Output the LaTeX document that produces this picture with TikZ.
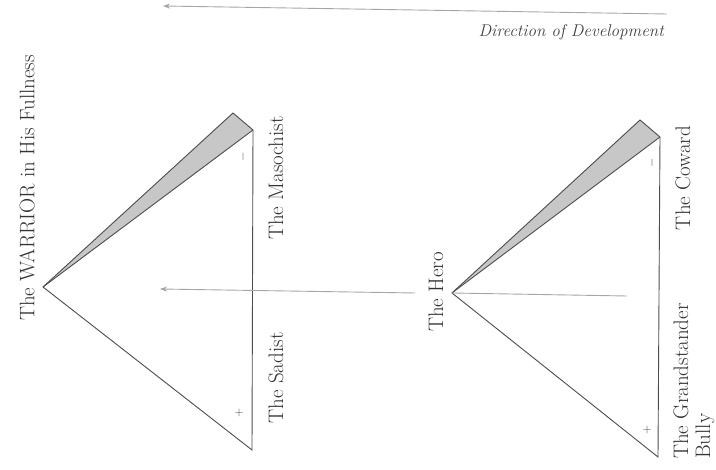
\documentclass[tikz,border=0pt]{standalone}
\usetikzlibrary{arrows.meta}
\begin{document}
\begin{tikzpicture}[x=1pt,y=-1pt,
  edge/.style={draw=black!70, line width=0.9pt, line join=miter},
  wedge/.style={fill=black!22},
  guide/.style={draw=black!35, line width=0.9pt},
  arr/.style={guide, -{Stealth[length=7pt,width=5pt]}},
  lbl/.style={rotate=90, font=\fontsize{21}{22}\selectfont, text=black!80, inner sep=0pt},
  sgn/.style={rotate=90, font=\fontsize{13}{14}\selectfont, text=black!75, inner sep=0pt}]
\useasboundingbox (0,0) rectangle (716,470);
% left triangle
\coordinate (LA) at (43,287);
\coordinate (LT) at (233,113);
\coordinate (LC) at (253,130);
\coordinate (LB) at (252,450);
\fill[wedge] (LA)--(LT)--(LC)--cycle;
\draw[edge] (LA)--(LT)--(LC)--(LB)--cycle;
\draw[edge] (LA)--(LC);
% right triangle
\coordinate (RA) at (452,293);
\coordinate (RT) at (640,120);
\coordinate (RC) at (660,137);
\coordinate (RB) at (658,457);
\fill[wedge] (RA)--(RT)--(RC)--cycle;
\draw[edge] (RA)--(RT)--(RC)--(RB)--cycle;
\draw[edge] (RA)--(RC);
\coordinate (RM) at (627,296);
\draw[guide] (RA)--(RM);
% arrows
\coordinate (M1) at (415,293);
\coordinate (M2) at (160,289);
\draw[arr] (M1)--(M2);
\coordinate (D1) at (667,14);
\coordinate (D2) at (163,6);
\draw[arr] (D1)--(D2);
\node[anchor=east, inner sep=0pt, font=\itshape\fontsize{17}{18}\selectfont, text=black!75] (dir) at (664,32) {Direction of Development};
% labels
\node[lbl] (warrior) at (27,188) {The WARRIOR in His Fullness};
\node[lbl] (maso) at (276,178) {The Masochist};
\node[lbl] (sadist) at (276,378) {The Sadist};
\node[lbl] (hero) at (436,292) {The Hero};
\node[lbl] (coward) at (683,178) {The Coward};
\node[lbl, align=left, anchor=west] (grand) at (694,459) {The Grandstander\\Bully};
% signs
\node[sgn] (lminus) at (243,157) {$-$};
\node[sgn] (lplus) at (239,413) {$+$};
\node[sgn] (rminus) at (652,163) {$-$};
\node[sgn] (rplus) at (647,430) {$+$};
\end{tikzpicture}
\end{document}
